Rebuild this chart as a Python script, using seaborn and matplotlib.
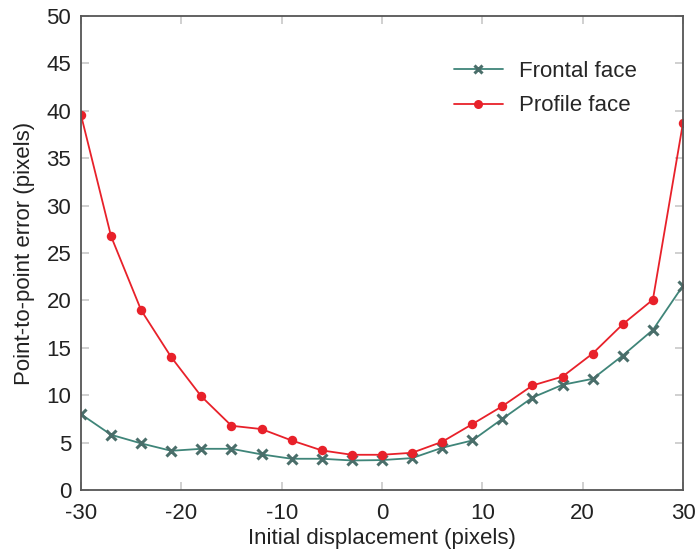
import matplotlib
matplotlib.use("Agg")
import matplotlib.pyplot as plt
import seaborn as sns
import pandas as pd
from matplotlib.lines import Line2D

displacement = [-30, -27, -24, -21, -18, -15, -12, -9, -6, -3, 0,
                3, 6, 9, 12, 15, 18, 21, 24, 27, 30]
frontal = [8.0, 5.83, 4.92, 4.14, 4.35, 4.35, 3.76, 3.30, 3.30, 3.12, 3.16,
           3.37, 4.46, 5.23, 7.51, 9.76, 11.1, 11.73, 14.19, 16.89, 21.56]
profile = [39.57, 26.76, 18.96, 14.01, 9.87, 6.78, 6.43, 5.23, 4.18, 3.72, 3.72,
           3.93, 5.09, 6.95, 8.85, 11.03, 11.97, 14.4, 17.49, 20.08, 38.73]
series_names = ["Frontal face", "Profile face"]
x_ticks = [-30, -20, -10, 0, 10, 20, 30]
y_ticks = [0, 5, 10, 15, 20, 25, 30, 35, 40, 45, 50]

sns.set_theme(style="white")
plt.rcParams['font.family'] = ['Liberation Sans', 'DejaVu Sans']
plt.rcParams['axes.unicode_minus'] = False

fig = plt.figure(figsize=(6.98, 5.5), dpi=100)
ax = fig.add_axes([0.116, 0.109, 0.8625, 0.862])

line_colors = ["#3f8579", "#e8212a"]
marker_colors = ["#4a6e6a", "#e8212a"]

sns.lineplot(x=displacement, y=frontal, ax=ax, color=line_colors[0], lw=1.3,
             marker="x", markersize=6.5, markeredgewidth=2.2,
             markerfacecolor=marker_colors[0], markeredgecolor=marker_colors[0])
sns.lineplot(x=displacement, y=profile, ax=ax, color=line_colors[1], lw=1.3,
             marker="o", markersize=6.8, markeredgewidth=0,
             markerfacecolor=marker_colors[1], markeredgecolor=marker_colors[1])

ax.set_xlim(-30, 30)
ax.set_ylim(0, 50)
ax.set_xticks(x_ticks)
ax.set_yticks(y_ticks)
ax.tick_params(direction="in", length=6, width=1.2, color="#c8c8c8",
               labelsize=16, labelcolor="#222222", top=True, right=True,
               bottom=True, left=True, labeltop=False, labelright=False)
ax.tick_params(axis="x", pad=9)
ax.tick_params(axis="y", pad=7)
for s in ax.spines.values():
    s.set_color("#555555")
    s.set_linewidth(1.3)
ax.set_xlabel("Initial displacement (pixels)", fontsize=16, color="#222222", labelpad=3)
ax.set_ylabel("Point-to-point error (pixels)", fontsize=16, color="#222222", labelpad=8)

handles = [Line2D([], [], color=line_colors[0], marker="x", markersize=6, markeredgewidth=2.2,
                  markerfacecolor=marker_colors[0], markeredgecolor=marker_colors[0], lw=1.3),
           Line2D([], [], color=line_colors[1], marker="o", markersize=6.5, markeredgewidth=0,
                  markerfacecolor=marker_colors[1], markeredgecolor=marker_colors[1], lw=1.3)]
ax.legend(handles, series_names, loc="upper right", bbox_to_anchor=(0.957, 0.947),
          frameon=False, fontsize=16, handlelength=2.2, labelspacing=0.6,
          handletextpad=0.75)

fig.savefig("out.png", dpi=100)
